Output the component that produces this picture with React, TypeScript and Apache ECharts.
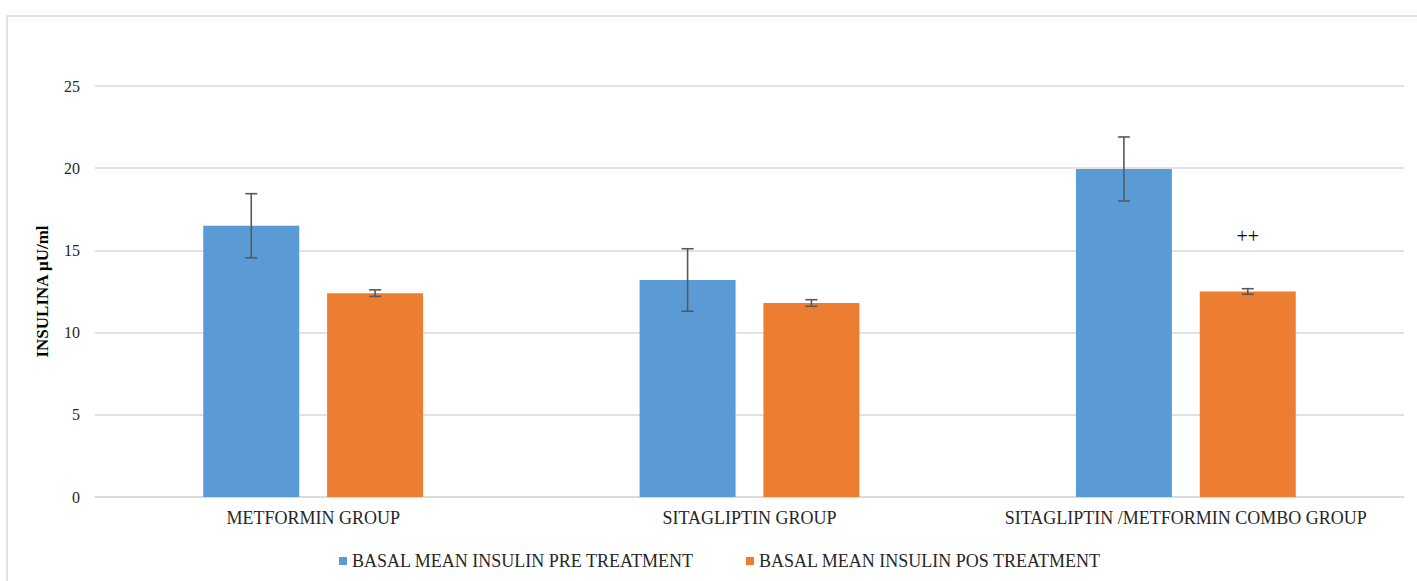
import React, { useEffect, useRef } from "react";
import * as echarts from "echarts";

const categories = ["METFORMIN GROUP", "SITAGLIPTIN GROUP", "SITAGLIPTIN /METFORMIN COMBO GROUP"];
const preValues = [16.5, 13.2, 19.95];
const preErrors = [1.95, 1.9, 1.95];
const posValues = [12.4, 11.8, 12.5];
const posErrors = [0.2, 0.2, 0.17];
const posAnnotations = ["", "", "++"];
const annotationLevel = [0, 0, 15.9];
const yTicks = [0, 5, 10, 15, 20, 25];

const FONT = "Liberation Serif, Times New Roman, serif";
const TEXT = "#262626";
const BAR_W = 0.22;
const BAR_GAP = 0.29;

function errorSeries(name: string, values: number[], errs: number[], dir: number, annotations?: string[]) {
  return {
    type: "custom",
    name: name + "_err",
    z: 10,
    silent: true,
    data: values.map((v, i) => [i, v, errs[i]]),
    renderItem: (params: any, api: any) => {
      const idx = api.value(0);
      const v = api.value(1);
      const e = api.value(2);
      const bw = api.size([1, 0])[0];
      const off = (dir * (bw * BAR_W * (1 + BAR_GAP))) / 2;
      const top = api.coord([idx, v + e]);
      const bot = api.coord([idx, v - e]);
      const x = top[0] + off;
      const cap = 6;
      const style = { stroke: "#595959", lineWidth: 1.6 };
      const children: any[] = [
        { type: "line", shape: { x1: x, y1: top[1], x2: x, y2: bot[1] }, style },
        { type: "line", shape: { x1: x - cap, y1: top[1], x2: x + cap, y2: top[1] }, style },
        { type: "line", shape: { x1: x - cap, y1: bot[1], x2: x + cap, y2: bot[1] }, style },
      ];
      if (annotations && annotations[idx]) {
        const p = api.coord([idx, annotationLevel[idx]]);
        children.push({
          type: "text",
          style: {
            text: annotations[idx],
            x: x,
            y: p[1],
            align: "center",
            verticalAlign: "middle",
            fontFamily: FONT,
            fontSize: 20,
            fill: "#000",
          },
        });
      }
      return { type: "group", children };
    },
  };
}

export default function App() {
  const ref = useRef<HTMLDivElement>(null);
  useEffect(() => {
    if (!ref.current) return;
    const chart = echarts.init(ref.current, null, { renderer: "svg" });
    chart.setOption({
      animation: false,
      backgroundColor: "#ffffff",
      graphic: [
        {
          type: "rect",
          shape: { x: 7, y: 16, width: 1430, height: 600 },
          style: { fill: "none", stroke: "#d9d9d9", lineWidth: 1.5 },
          silent: true,
        },
      ],
      grid: { left: 95, right: 13, top: 86, bottom: 84 },
      legend: {
        data: ["BASAL MEAN INSULIN PRE TREATMENT", "BASAL MEAN INSULIN POS TREATMENT"],
        top: 547,
        left: 334,
        icon: "rect",
        itemWidth: 8,
        itemHeight: 8,
        itemGap: 52,
        textStyle: { fontFamily: FONT, fontSize: 18, color: TEXT },
      },
      xAxis: {
        type: "category",
        data: categories,
        axisLine: { lineStyle: { color: "#d9d9d9", width: 1.5 } },
        axisTick: { show: false },
        axisLabel: { fontFamily: FONT, fontSize: 18, color: TEXT, margin: 12, interval: 0, hideOverlap: false },
      },
      yAxis: {
        type: "value",
        min: yTicks[0],
        max: yTicks[yTicks.length - 1],
        interval: 5,
        name: "INSULINA µU/ml",
        nameLocation: "middle",
        nameGap: 44,
        nameTextStyle: { fontFamily: FONT, fontSize: 17, fontWeight: "bold", color: "#000" },
        axisLine: { show: false },
        axisTick: { show: false },
        splitLine: { lineStyle: { color: "#d9d9d9", width: 1.5 } },
        axisLabel: { fontFamily: FONT, fontSize: 16, color: TEXT, margin: 15 },
      },
      series: [
        {
          name: "BASAL MEAN INSULIN PRE TREATMENT",
          type: "bar",
          data: preValues,
          barWidth: BAR_W * 100 + "%",
          barGap: BAR_GAP * 100 + "%",
          itemStyle: { color: "#5B9BD5" },
        },
        {
          name: "BASAL MEAN INSULIN POS TREATMENT",
          type: "bar",
          data: posValues,
          barWidth: BAR_W * 100 + "%",
          barGap: BAR_GAP * 100 + "%",
          itemStyle: { color: "#ED7D31" },
        },
        errorSeries("pre", preValues, preErrors, -1),
        errorSeries("pos", posValues, posErrors, 1, posAnnotations),
      ],
    });
    return () => chart.dispose();
  }, []);
  return (
    <div
      ref={ref}
      style={{ position: "fixed", left: 0, top: 0, width: 1417, height: 581, background: "#fff" }}
    />
  );
}
